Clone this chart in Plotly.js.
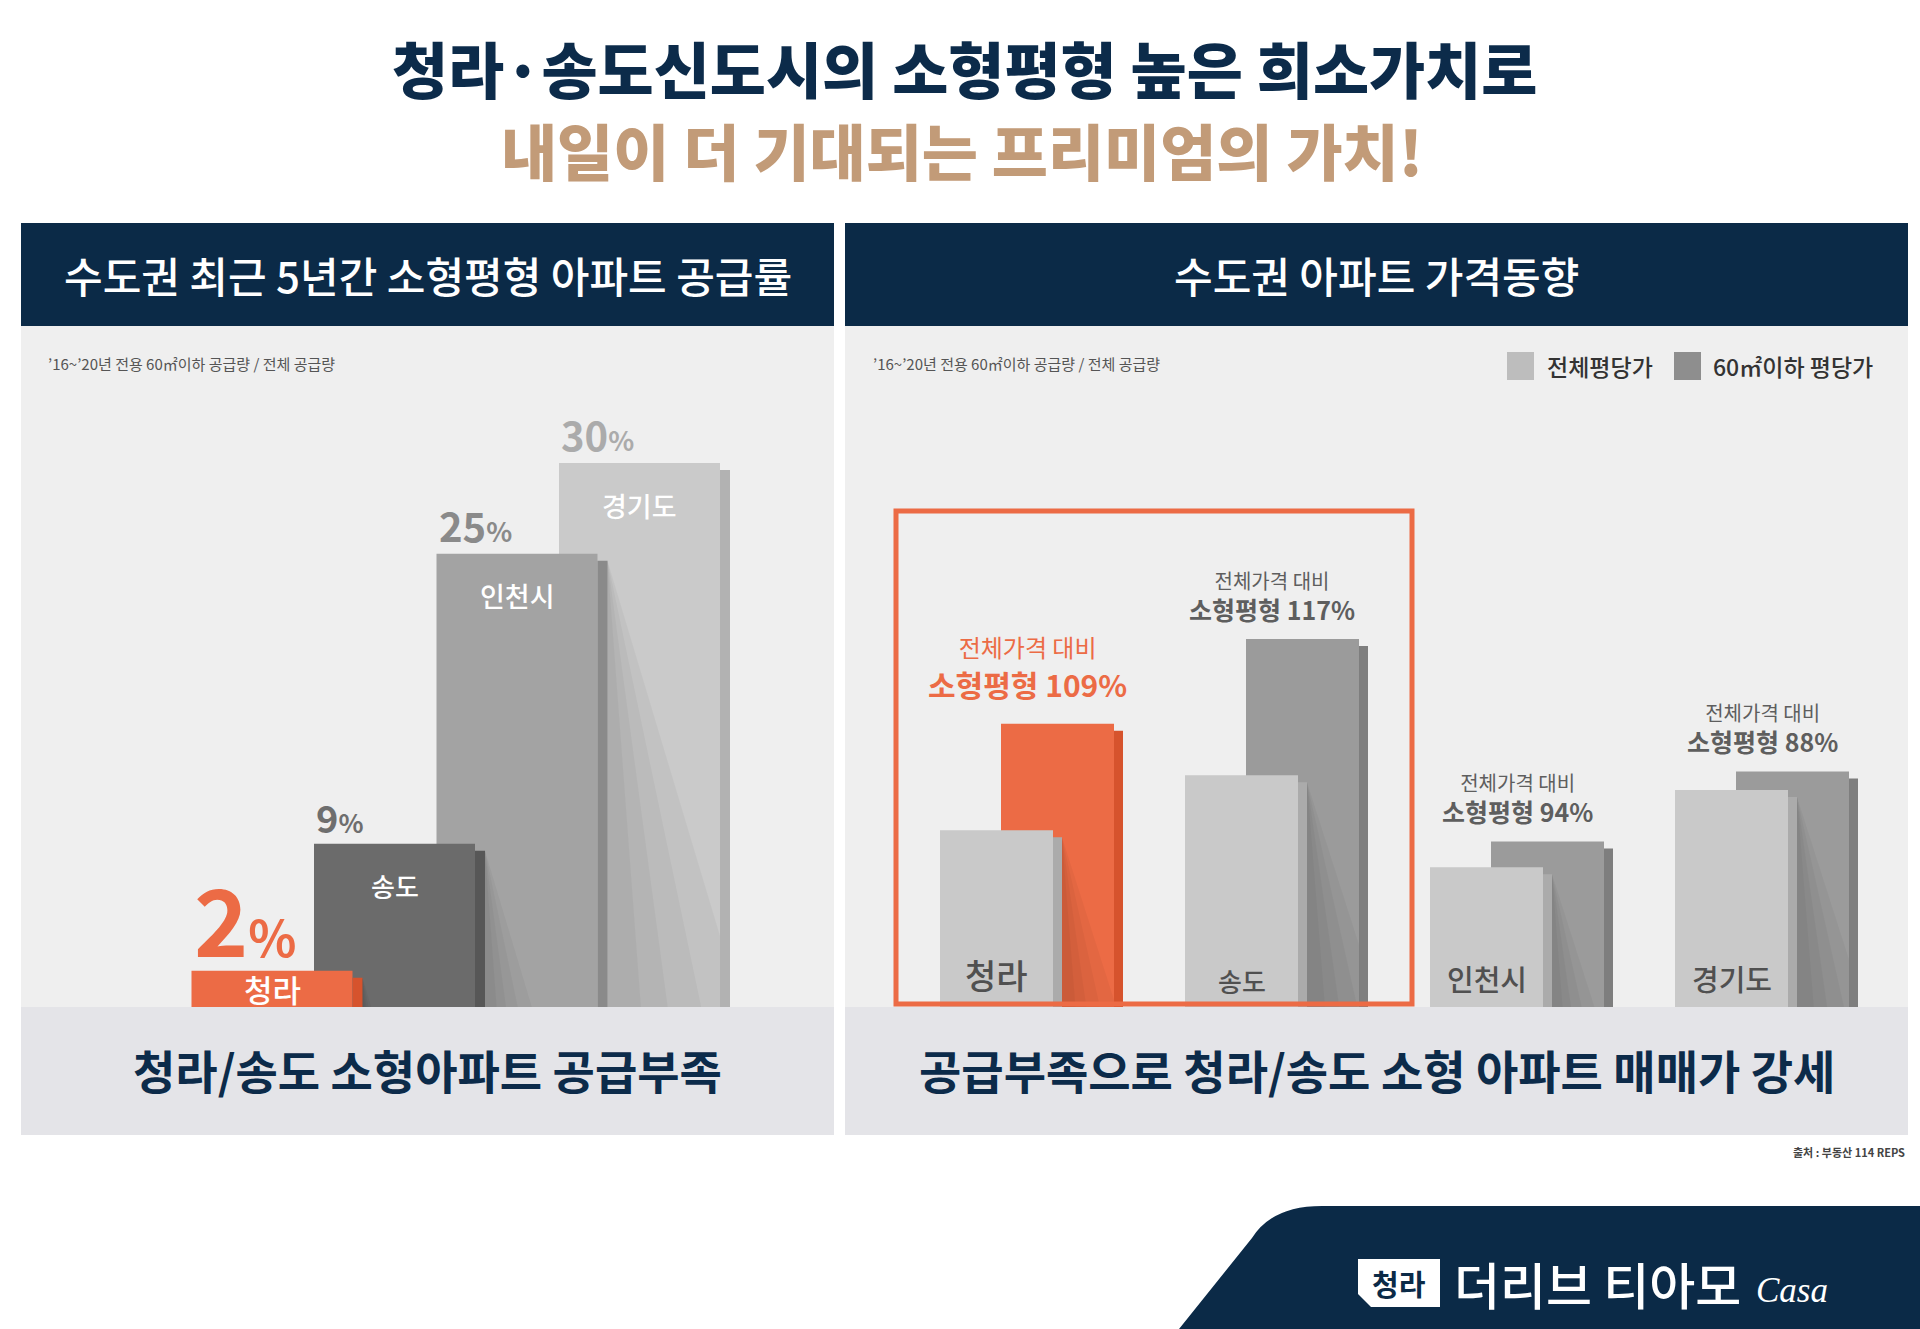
<!DOCTYPE html>
<html><head><meta charset="utf-8">
<script src="https://cdn.plot.ly/plotly-3.0.1.min.js"></script>
<style>html,body{margin:0;padding:0;background:#fff}#chart{width:1920px;height:1329px}</style>
</head><body><div id="chart"></div>
<script>
// ---------------- data ----------------
const supplyRegions = ['청라', '송도', '인천시', '경기도'];
const supplyShare = [2, 9, 25, 30];              // 소형평형 공급률 (%)
const priceRegions = ['청라', '송도', '인천시', '경기도'];
const priceAll = [48, 63, 38, 59];               // 전체평당가 (relative bar height)
const priceSmall = [77, 100, 45, 64];            // 60㎡이하 평당가 (relative bar height)
const smallVsAll = [109, 117, 94, 88];           // 전체가격 대비 소형평형 (%)
const seriesNames = ['전체평당가', '60㎡이하 평당가'];
const titleLines = ['청라·송도신도시의 소형평형 높은 희소가치로', '내일이 더 기대되는 프리미엄의 가치!'];
const panelTitles = ['수도권 최근 5년간 소형평형 아파트 공급률', '수도권 아파트 가격동향'];
const panelNotes = ['’16~’20년 전용 60㎡이하 공급량 / 전체 공급량', '’16~’20년 전용 60㎡이하 공급량 / 전체 공급량'];
const panelTakeaways = ['청라/송도 소형아파트 공급부족', '공급부족으로 청라/송도 소형 아파트 매매가 강세'];
const ratioPrefix = '전체가격 대비';
const ratioLabel = '소형평형';
const sourceNote = '출처 : 부동산 114 REPS';
const brand = ['청라', '더리브 티아모', 'Casa'];

// ---------------- styles ----------------
const FONT = '"Noto Sans CJK KR", "Noto Sans", sans-serif';
const NAVY = '#0b2a47';
const ORANGE = '#ec6b45';
const leftFront = [ORANGE, '#6b6b6b', '#a3a3a3', '#cacaca'];
const leftSide = ['#d6532d', '#575757', '#8a8a8a', '#b2b2b2'];
const leftValColor = [ORANGE, '#6e6e6e', '#8a8a8a', '#ababab'];
const leftValSize = [92, 38, 40, 40];
const leftPctSize = [50, 26, 27, 27];
const leftLabSize = [31, 26, 27, 27];
const rightDark = [ORANGE, '#9b9b9b', '#9b9b9b', '#9b9b9b'];
const rightDarkSide = ['#d6532d', '#7e7e7e', '#7e7e7e', '#7e7e7e'];
const rightLight = '#c9c9c9', rightLightSide = '#ababab';
const legendColors = ['#bdbdbd', '#8e8e8e'];
const ratioColor = [ORANGE, '#5e5e5e', '#5e5e5e', '#5e5e5e'];
const ratioSizes = [[24, 30, 31], [20, 25, 24]];   // [line1, line2, line spacing base] for highlighted / others
const regionLabSize = [34, 26, 29, 29];

// ---------------- geometry ----------------
const W = 1920, H = 1329;
const px = x => x / W, py = y => 1 - y / H;
const BASE = 1007, TOP = 326;
const Lg = {x0: 21, x1: 834, c0: 272, step: 122.5, barW: 161, side: 10, ppu: 18.13};
const Rg = {x0: 845, x1: 1908, c0: 1027, step: 245, barW: 113, shift: 30.5, side: 9, ppu: 3.68};

const wL = Lg.barW / Lg.step, sL = Lg.side / Lg.step, bevL = 7 / Lg.ppu;
const wR = Rg.barW / Rg.step, sR = Rg.side / Rg.step, bevR = 7 / Rg.ppu;
const offLight = (-Rg.shift - Rg.barW / 2) / Rg.step;
const offDark = (Rg.shift - Rg.barW / 2) / Rg.step;

const idx = supplyRegions.map((_, i) => i);
const rev = idx.slice().reverse();

const traces = [];
// left chart (back to front: later regions behind)
traces.push({type: 'bar', xaxis: 'x', yaxis: 'y', x: rev, y: rev.map(i => supplyShare[i]),
  width: wL, offset: -wL / 2, marker: {color: rev.map(i => leftFront[i]), line: {width: 0}},
  text: rev.map(i => supplyRegions[i]), textposition: 'none', hoverinfo: 'text+y', showlegend: false});
traces.push({type: 'bar', xaxis: 'x', yaxis: 'y', x: idx, y: supplyShare.map(v => Math.max(v - bevL, 0)),
  width: sL, offset: wL / 2, marker: {color: leftSide, line: {width: 0}}, hoverinfo: 'skip', showlegend: false});
// right chart
traces.push({type: 'bar', xaxis: 'x2', yaxis: 'y2', x: idx, y: priceSmall, name: seriesNames[1],
  width: wR, offset: offDark, marker: {color: rightDark, line: {width: 0}}, showlegend: false});
traces.push({type: 'bar', xaxis: 'x2', yaxis: 'y2', x: idx, y: priceSmall.map(v => v - bevR),
  width: sR, offset: offDark + wR, marker: {color: rightDarkSide, line: {width: 0}}, hoverinfo: 'skip', showlegend: false});
traces.push({type: 'bar', xaxis: 'x2', yaxis: 'y2', x: idx, y: priceAll, name: seriesNames[0],
  width: wR, offset: offLight, marker: {color: rightLight, line: {width: 0}}, showlegend: false});
traces.push({type: 'bar', xaxis: 'x2', yaxis: 'y2', x: idx, y: priceAll.map(v => v - bevR),
  width: sR, offset: offLight + wR, marker: {color: rightLightSide, line: {width: 0}}, hoverinfo: 'skip', showlegend: false});

// ---------------- shapes ----------------
const shapes = [];
const rect = (x0, y0, x1, y1, fill, extra) => Object.assign({type: 'rect', xref: 'paper', yref: 'paper',
  x0: px(x0), x1: px(x1), y0: py(y1), y1: py(y0), fillcolor: fill, line: {width: 0}, layer: 'below'}, extra || {});
[[21, 834], [845, 1908]].forEach(([a, b]) => {
  shapes.push(rect(a, 223, b, 326, NAVY));
  shapes.push(rect(a, 326, b, BASE, '#efefef'));
  shapes.push(rect(a, BASE, b, 1135, '#e4e4e8'));
});

// soft cast shadows (derived from bar values)
function shadow(xref, yref, xs, ys, kData, xclip, fill) {
  const xe = Math.min(xs + kData * ys, xclip);
  const yAt = ys - (xe - xs) / kData;
  let d;
  if (yAt > 0) d = `M${xs},${ys} L${xe},${yAt} L${xe},0 L${xs},0 Z`;
  else d = `M${xs},${ys} L${xs + kData * ys},0 L${xs},0 Z`;
  shapes.push({type: 'path', xref, yref, path: d, fillcolor: fill, line: {width: 0}, layer: 'above'});
}
const shadeSteps = [1, 0.7, 0.45, 0.25];
const kL = 0.30 * Lg.ppu / Lg.step;
for (let i = 0; i < supplyShare.length - 1; i++) {
  const xs = i + wL / 2 + sL, ys = supplyShare[i] - bevL, xc = i + 1 + wL / 2;
  shadeSteps.forEach(f => shadow('x', 'y', xs, ys, kL * f, xc, 'rgba(0,0,0,0.035)'));
}
const kR = 0.32 * Rg.ppu / Rg.step;
for (let i = 0; i < priceAll.length; i++) {
  const xs = i + offLight + wR + sR, ys = priceAll[i] - bevR, xc = i + offDark + wR;
  shadeSteps.forEach(f => shadow('x2', 'y2', xs, ys, kR * f, xc, 'rgba(0,0,0,0.035)'));
}
// highlight frame around 청라/송도
shapes.push({type: 'rect', xref: 'paper', yref: 'paper', x0: px(896), x1: px(1412), y0: py(1004), y1: py(511),
  line: {color: ORANGE, width: 5}, fillcolor: 'rgba(0,0,0,0)', layer: 'above'});
// legend swatches
shapes.push(rect(1507, 352, 1534, 380, legendColors[0], {layer: 'above'}));
shapes.push(rect(1674, 352, 1701, 380, legendColors[1], {layer: 'above'}));
// brand band
const P = (x, y) => `${px(x)},${py(y)}`;
shapes.push({type: 'path', xref: 'paper', yref: 'paper', layer: 'below', fillcolor: NAVY, line: {width: 0},
  path: `M${P(1179, 1329)} L${P(1252, 1238)} Q${P(1272, 1206)} ${P(1322, 1206)} L${P(1920, 1206)} L${P(1920, 1329)} Z`});
shapes.push({type: 'path', xref: 'paper', yref: 'paper', layer: 'above', fillcolor: '#ffffff', line: {width: 0},
  path: `M${P(1358, 1259)} L${P(1440, 1259)} L${P(1440, 1307)} L${P(1371, 1307)} L${P(1358, 1294)} Z`});

// ---------------- annotations ----------------
const ann = [];
const txt = (text, x, y, o) => ann.push(Object.assign({xref: 'paper', yref: 'paper', x: px(x), y: py(y), text,
  showarrow: false, xanchor: 'center', yanchor: 'middle', font: {family: FONT, size: 20, color: '#333'}}, o || {}));

txt(titleLines[0], 964, 67, {font: {family: FONT, size: 61, weight: 900, color: '#0c2b4a'}});
txt(titleLines[1], 962, 150, {font: {family: FONT, size: 61, weight: 900, color: '#c29b78'}});
txt(panelTitles[0], 427.5, 274, {font: {family: FONT, size: 42, weight: 500, color: '#ffffff'}});
txt(panelTitles[1], 1376.5, 274, {font: {family: FONT, size: 42, weight: 500, color: '#ffffff'}});
txt(panelNotes[0], 46, 364, {xanchor: 'left', font: {family: FONT, size: 15, color: '#555'}});
txt(panelNotes[1], 871, 364, {xanchor: 'left', font: {family: FONT, size: 15, color: '#555'}});
txt(panelTakeaways[0], 427.5, 1069, {font: {family: FONT, size: 46, weight: 700, color: '#0c2b4a'}});
txt(panelTakeaways[1], 1376.5, 1069, {font: {family: FONT, size: 46, weight: 700, color: '#0c2b4a'}});
txt(sourceNote, 1907, 1152, {xanchor: 'right', font: {family: FONT, size: 11, weight: 700, color: '#444'}});
txt(seriesNames[0], 1545, 366, {xanchor: 'left', font: {family: FONT, size: 23, weight: 500, color: '#333'}});
txt(seriesNames[1], 1711, 366, {xanchor: 'left', font: {family: FONT, size: 23, weight: 500, color: '#333'}});
txt(brand[0], 1399, 1283, {font: {family: FONT, size: 29, weight: 700, color: NAVY}});
txt(brand[1], 1452, 1283, {xanchor: 'left', font: {family: FONT, size: 50, weight: 500, color: '#ffffff'}});
txt(brand[2], 1754, 1290, {xanchor: 'left', font: {family: '"Liberation Serif", "DejaVu Serif", serif', size: 35, style: 'italic', color: '#ffffff'}});

// left chart labels
supplyShare.forEach((v, i) => {
  ann.push({xref: 'x', yref: 'y', x: i - wL / 2, y: v, xanchor: 'left', yanchor: 'bottom', showarrow: false,
    yshift: i === 0 ? -14 : -2,
    text: `${v}<span style="font-size:${leftPctSize[i]}px">%</span>`,
    font: {family: FONT, size: leftValSize[i], weight: 700, color: leftValColor[i]}});
  ann.push({xref: 'x', yref: 'y', x: i, y: Math.max(v - 42 / Lg.ppu, v / 2), xanchor: 'center', yanchor: 'middle',
    showarrow: false, text: supplyRegions[i],
    font: {family: FONT, size: leftLabSize[i], weight: 500, color: '#ffffff'}});
});
// right chart labels
priceAll.forEach((v, i) => {
  const top = Math.max(v, priceSmall[i]);
  const hi = i === 0;
  const [s1, s2, sb] = ratioSizes[hi ? 0 : 1];
  ann.push({xref: 'x2', yref: 'y2', x: i, y: top, xanchor: 'center', yanchor: 'bottom', showarrow: false,
    yshift: hi ? 16 : 10,
    text: `<span style="font-size:${s1}px">${ratioPrefix}</span><br><b><span style="font-size:${s2}px">${ratioLabel} ${smallVsAll[i]}%</span></b>`,
    font: {family: FONT, size: sb, weight: 400, color: ratioColor[i]}});
  ann.push({xref: 'x2', yref: 'y2', x: i + offLight + wR / 2, y: 0, xanchor: 'center', yanchor: 'bottom',
    showarrow: false, yshift: 6, text: priceRegions[i],
    font: {family: FONT, size: regionLabSize[i], weight: 500, color: '#505050'}});
});

const layout = {
  width: W, height: H, margin: {l: 0, r: 0, t: 0, b: 0},
  paper_bgcolor: '#ffffff', plot_bgcolor: 'rgba(0,0,0,0)',
  barmode: 'overlay', showlegend: false, font: {family: FONT},
  xaxis: {domain: [px(Lg.x0), px(Lg.x1)], range: [-(Lg.c0 - Lg.x0) / Lg.step, (Lg.x1 - Lg.c0) / Lg.step],
    visible: false, fixedrange: true},
  yaxis: {domain: [py(BASE), py(TOP)], range: [0, (BASE - TOP) / Lg.ppu], visible: false, fixedrange: true},
  xaxis2: {domain: [px(Rg.x0), px(Rg.x1)], range: [-(Rg.c0 - Rg.x0) / Rg.step, (Rg.x1 - Rg.c0) / Rg.step],
    visible: false, fixedrange: true, anchor: 'y2'},
  yaxis2: {domain: [py(BASE), py(TOP)], range: [0, (BASE - TOP) / Rg.ppu], visible: false, fixedrange: true, anchor: 'x2'},
  shapes, annotations: ann
};
Plotly.newPlot('chart', traces, layout, {displayModeBar: false, responsive: false});
</script></body></html>
